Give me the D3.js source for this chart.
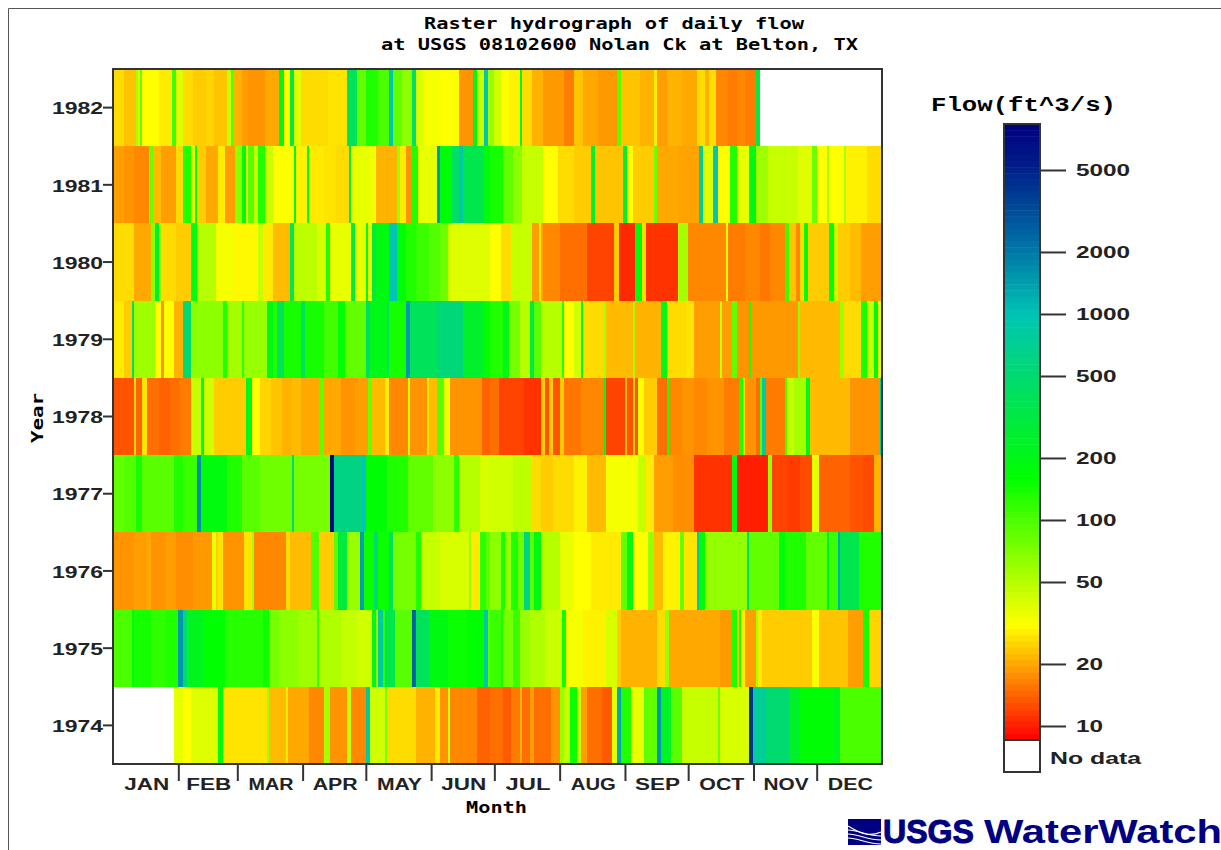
<!DOCTYPE html>
<html>
<head>
<meta charset="utf-8">
<title>Raster hydrograph</title>
<script src="https://d3js.org/d3.v7.min.js"></script>
<style>
html, body { margin: 0; padding: 0; background: #fff; }
svg { display: block; }
</style>
</head>
<body>
<svg class="chart"></svg>
<script>
// each run is [first day of year (0 based), flow in ft^3/s]; a flow holds until the next run, null = no data
var flow1982 = [[0,26],[5,23],[11,55],[12,38],[13,85],[14,31],[22,28],[28,110],[30,38],[33,26],[38,24],[44,25],[48,23],[54,45],[56,100],[57,21],[61,19],[64,18],[72,20],[79,200],[81,31],[84,300],[86,38],[89,26],[102,27],[111,400],[116,85],[120,130],[126,100],[131,900],[133,85],[137,65],[142,450],[144,40],[147,33],[155,31],[164,18],[171,200],[173,44],[176,900],[178,55],[179,60],[181,42],[184,31],[188,29],[193,200],[194,26],[199,21],[204,18.5],[214,16],[219,23],[223,20],[230,18.5],[239,90],[241,23],[250,21],[257,28],[258,19],[263,21],[270,20],[277,26],[281,21],[283,26],[286,17],[292,16],[296,17],[300,16],[305,300],[307,null]];
var flow1981 = [[0,19],[5,18],[10,17],[17,80],[19,22],[23,19],[30,26],[33,130],[37,38],[39,200],[40,24],[44,20],[50,28],[53,19],[58,65],[61,200],[63,38],[64,90],[67,45],[69,130],[72,44],[76,31],[86,200],[87,29],[92,200],[93,28],[100,27],[106,26],[112,300],[113,36],[122,34],[125,21],[135,60],[136,28],[139,18],[142,130],[145,36],[154,1500],[155,170],[161,450],[164,850],[166,350],[176,180],[179,140],[185,85],[190,65],[194,45],[204,31],[211,26],[219,24],[227,250],[229,23],[242,250],[244,31],[247,24],[257,80],[258,20],[268,19.5],[278,700],[280,38],[285,1000],[287,31],[293,130],[296,36],[302,200],[305,58],[311,45],[325,38],[332,80],[334,31],[339,55],[340,31],[347,55],[348,29],[358,26]];
var flow1980 = [[0,26],[10,20],[18,65],[20,250],[22,60],[23,26],[30,24],[37,180],[40,50],[49,33],[57,30],[69,45],[71,28],[76,22],[84,350],[86,48],[97,40],[101,130],[103,36],[113,300],[115,36],[120,180],[121,36],[123,300],[125,190],[131,1000],[135,170],[139,130],[144,110],[150,95],[155,80],[159,45],[160,38],[179,31],[184,26],[189,45],[199,19],[202,28],[203,19],[204,17],[212,15],[225,12],[238,24],[240,10.5],[248,180],[251,26],[253,11],[268,55],[273,17],[291,31],[292,16],[300,17],[307,15.5],[312,17],[319,110],[321,23],[324,17],[326,26],[328,170],[330,24],[340,170],[342,45],[344,24],[350,22],[355,19]];
var flow1979 = [[0,28],[5,24],[9,400],[10,58],[20,31],[23,18],[24,31],[29,21],[33,500],[37,65],[52,130],[54,55],[61,120],[62,60],[73,200],[76,130],[78,400],[81,140],[89,400],[91,140],[100,105],[107,160],[110,85],[120,450],[122,200],[130,400],[131,140],[139,1500],[141,400],[154,550],[166,250],[176,170],[179,130],[185,200],[188,75],[193,50],[198,300],[200,90],[203,50],[213,130],[214,31],[219,42],[222,220],[223,26],[233,55],[234,22],[247,55],[248,21],[260,200],[263,26],[272,27],[276,19],[288,45],[289,19],[294,85],[296,18],[302,130],[303,18.5],[325,60],[326,22],[345,58],[347,26],[355,140],[358,45],[361,190],[363,36]];
var flow1978 = [[0,13],[10,26],[11,14],[14,27],[16,15],[22,14],[27,15],[32,16],[37,45],[42,170],[43,42],[48,24],[63,200],[66,31],[70,25],[75,23],[80,21],[85,22],[89,20],[98,85],[100,20],[108,18],[115,19],[121,80],[123,22],[129,28],[131,17],[140,45],[141,18],[149,28],[150,22],[154,90],[157,35],[160,18],[175,14],[179,15],[183,12],[195,11],[203,24],[205,13],[207,24],[209,13],[212,24],[214,15.5],[222,17],[233,170],[234,12],[243,22],[244,13],[247,24],[248,13],[249,31],[252,24],[258,15],[263,130],[264,17],[270,18],[276,17],[282,18],[290,16],[297,130],[299,26],[300,18],[305,15],[307,90],[308,800],[310,16],[319,100],[320,45],[323,55],[329,200],[331,22],[350,18],[364,800]];
var flow1977 = [[0,85],[5,95],[11,140],[14,90],[29,130],[33,110],[40,1600],[42,180],[54,130],[61,90],[70,78],[85,500],[86,75],[103,7000],[105,600],[118,1000],[120,170],[130,130],[140,85],[152,65],[162,120],[164,50],[174,40],[179,42],[190,47],[199,26],[203,24],[209,26],[219,29],[225,22],[234,33],[249,45],[253,28],[257,19],[266,17.5],[276,11],[294,170],[296,10],[311,60],[313,12],[320,11.5],[326,12.5],[332,36],[335,14],[350,13],[356,12.5],[361,21]];
var flow1976 = [[0,18],[10,19],[16,20],[18,18],[25,19],[30,17.5],[38,18.5],[47,36],[49,24],[50,27],[52,18],[62,27],[66,55],[67,17],[82,26],[84,22],[94,95],[98,24],[105,90],[107,300],[111,60],[117,1400],[119,150],[124,500],[126,150],[131,400],[133,75],[144,130],[146,45],[155,40],[169,60],[170,28],[174,120],[177,90],[179,65],[184,140],[186,60],[189,130],[192,80],[195,600],[198,90],[200,190],[203,50],[212,36],[219,31],[227,28],[241,85],[244,190],[247,31],[254,60],[257,22],[261,29],[269,85],[271,27],[277,1000],[278,170],[281,62],[301,450],[302,85],[316,170],[319,130],[329,85],[339,250],[340,110],[344,1300],[345,350],[354,130]];
var flow1975 = [[0,100],[9,180],[10,140],[18,120],[25,130],[31,1500],[33,500],[35,220],[43,160],[53,125],[71,150],[74,75],[79,65],[88,58],[97,110],[98,52],[108,46],[116,42],[123,220],[125,60],[126,800],[128,120],[129,350],[134,90],[142,2500],[144,400],[150,190],[159,150],[168,165],[176,900],[178,90],[179,110],[184,140],[185,75],[190,110],[193,60],[198,52],[205,44],[213,150],[215,33],[223,29],[234,40],[239,24],[241,21],[258,26],[262,60],[264,20],[288,18.5],[294,130],[296,24],[297,140],[298,28],[300,19],[305,55],[306,28],[308,24],[332,31],[335,23],[349,19],[356,140],[359,25]];
var flow1974 = [[0,null],[29,36],[33,31],[37,38],[50,180],[52,27],[73,55],[74,22],[82,28],[83,20],[93,17],[100,55],[103,18],[111,45],[113,17],[120,800],[122,42],[129,75],[130,26],[144,21],[153,28],[155,18],[159,45],[160,17],[173,14],[179,15],[185,13.5],[189,16],[193,21],[194,15],[198,19],[200,15],[208,18],[212,60],[214,45],[217,150],[220,45],[222,19],[225,15],[232,13.5],[237,38],[239,1300],[241,130],[246,36],[252,90],[253,85],[258,1500],[260,230],[265,90],[270,45],[287,80],[288,40],[302,4000],[304,750],[310,500],[321,250],[326,170],[342,220],[345,100]];

var years = [1982, 1981, 1980, 1979, 1978, 1977, 1976, 1975, 1974];
var yearRuns = [flow1982, flow1981, flow1980, flow1979, flow1978, flow1977, flow1976, flow1975, flow1974];
var monthNames = ['JAN', 'FEB', 'MAR', 'APR', 'MAY', 'JUN', 'JUL', 'AUG', 'SEP', 'OCT', 'NOV', 'DEC'];
var monthStarts = [0, 31, 59, 90, 120, 151, 181, 212, 243, 273, 304, 334, 365];
var legendTicks = [5000, 2000, 1000, 500, 200, 100, 50, 20, 10];
var flowStops = [8.55, 31, 160, 1000, 2000, 5000, 8360];
var colorStops = ['#ff0000', '#ffff00', '#00ff00', '#00c4b4', '#0078a8', '#00208a', '#000080'];

function show() {
    'use strict';

    var width = 1221, height = 850;
    var plot = { left: 113, right: 882, top: 69, bottom: 764 };
    var darkLine = '#333';
    var sansFont = '"Liberation Sans", Arial, sans-serif';
    var monoFont = '"DejaVu Sans Mono", monospace';

    var svg = d3.select('.chart')
        .attr('width', width)
        .attr('height', height);

    var x = d3.scaleLinear().domain([0, 365]).range([plot.left, plot.right]);
    var y = d3.scaleBand().domain(years).range([plot.top, plot.bottom]);
    var color = d3.scaleLog().domain(flowStops).range(colorStops)
        .interpolate(d3.interpolateRgb).clamp(true);

    // blur the raster a touch, the original picture was scaled up
    var filter = svg.append('defs').append('filter')
        .attr('id', 'soft')
        .attr('color-interpolation-filters', 'sRGB')
        .attr('x', 0).attr('y', 0).attr('width', 1).attr('height', 1);
    filter.append('feGaussianBlur').attr('stdDeviation', '0.6 0');

    // page border
    svg.append('path')
        .attr('d', 'M8.5,850V8.5H1221')
        .attr('fill', 'none')
        .attr('stroke', '#555');

    // expand the runs to one cell per day
    var cells = [];
    years.forEach(function (year, i) {
        var runs = yearRuns[i];
        var r = 0;
        d3.range(365).forEach(function (day) {
            while (r + 1 < runs.length && runs[r + 1][0] <= day) r++;
            if (runs[r][1] !== null) cells.push({ year: year, day: day, flow: runs[r][1] });
        });
    });

    svg.append('g')
        .attr('filter', 'url(#soft)')
        .selectAll('rect').data(cells).enter()
        .append('rect')
        .attr('x', function (d) { return x(d.day); })
        .attr('y', function (d) { return y(d.year); })
        .attr('width', function (d) { return x(d.day + 1) - x(d.day) + 0.6; })
        .attr('height', y.bandwidth() + 0.5)
        .attr('fill', function (d) { return color(d.flow); })
        .attr('shape-rendering', 'crispEdges');

    svg.append('rect')
        .attr('x', plot.left)
        .attr('y', plot.top)
        .attr('width', plot.right - plot.left)
        .attr('height', plot.bottom - plot.top)
        .attr('fill', 'none')
        .attr('stroke', darkLine)
        .attr('stroke-width', 2);

    // year axis
    var yAxis = svg.append('g')
        .attr('transform', 'translate(' + plot.left + ',0)')
        .call(d3.axisLeft(y).tickSize(10).tickPadding(0));
    yAxis.select('.domain').remove();
    yAxis.selectAll('line').attr('stroke', darkLine).attr('stroke-width', 2);
    yAxis.selectAll('text')
        .attr('x', -10)
        .attr('dy', '0.42em')
        .attr('textLength', 51)
        .attr('lengthAdjust', 'spacingAndGlyphs')
        .attr('font-family', sansFont)
        .attr('font-weight', 'bold')
        .attr('font-size', 16)
        .attr('fill', '#222');

    // month axis, ticks on the month boundaries and names in the middle
    var xAxis = svg.append('g')
        .attr('transform', 'translate(0,' + plot.bottom + ')')
        .call(d3.axisBottom(x).tickValues(monthStarts.slice(1, 12)).tickSize(17).tickFormat(''));
    xAxis.select('.domain').remove();
    xAxis.selectAll('line').attr('stroke', darkLine).attr('stroke-width', 2);

    svg.append('g').selectAll('text').data(monthNames).enter()
        .append('text')
        .attr('x', function (d, i) { return x((monthStarts[i] + monthStarts[i + 1]) / 2) + 1; })
        .attr('y', 790)
        .attr('text-anchor', 'middle')
        .attr('textLength', 45)
        .attr('lengthAdjust', 'spacingAndGlyphs')
        .attr('font-family', sansFont)
        .attr('font-weight', 'bold')
        .attr('font-size', 16)
        .attr('fill', '#222')
        .text(function (d) { return d; });

    // titles
    svg.append('text')
        .attr('x', 424).attr('y', 29)
        .attr('textLength', 380)
        .attr('lengthAdjust', 'spacingAndGlyphs')
        .attr('font-family', monoFont).attr('font-weight', 'bold').attr('font-size', 15.5)
        .text('Raster hydrograph of daily flow');
    svg.append('text')
        .attr('x', 381).attr('y', 50)
        .attr('textLength', 477)
        .attr('lengthAdjust', 'spacingAndGlyphs')
        .attr('font-family', monoFont).attr('font-weight', 'bold').attr('font-size', 15.5)
        .text('at USGS 08102600 Nolan Ck at Belton, TX');
    svg.append('text')
        .attr('x', 466).attr('y', 813)
        .attr('textLength', 61)
        .attr('lengthAdjust', 'spacingAndGlyphs')
        .attr('font-family', monoFont).attr('font-weight', 'bold').attr('font-size', 15.5)
        .text('Month');
    svg.append('text')
        .attr('transform', 'translate(43,443) rotate(-90)')
        .attr('textLength', 50)
        .attr('lengthAdjust', 'spacingAndGlyphs')
        .attr('font-family', monoFont).attr('font-weight', 'bold').attr('font-size', 15.5)
        .text('Year');

    // legend
    var legend = { left: 1004, right: 1040, top: 124, bottom: 740, noData: 772, bands: 100 };
    var legendY = d3.scaleLog()
        .domain([flowStops[0], flowStops[flowStops.length - 1]])
        .range([legend.bottom, legend.top]);
    var bandHeight = (legend.bottom - legend.top) / legend.bands;

    svg.append('text')
        .attr('x', 931).attr('y', 111)
        .attr('textLength', 185)
        .attr('lengthAdjust', 'spacingAndGlyphs')
        .attr('font-family', '"Liberation Mono", monospace').attr('font-weight', 'bold').attr('font-size', 20)
        .text('Flow(ft^3/s)');

    svg.append('g').selectAll('rect').data(d3.range(legend.bands)).enter()
        .append('rect')
        .attr('x', legend.left)
        .attr('y', function (d) { return legend.top + d * bandHeight; })
        .attr('width', legend.right - legend.left)
        .attr('height', bandHeight + 0.5)
        .attr('fill', function (d) { return color(legendY.invert(legend.top + (d + 0.5) * bandHeight)); });

    svg.append('rect')
        .attr('x', legend.left)
        .attr('y', legend.top)
        .attr('width', legend.right - legend.left)
        .attr('height', legend.noData - legend.top)
        .attr('fill', 'none')
        .attr('stroke', darkLine)
        .attr('stroke-width', 2);
    svg.append('line')
        .attr('x1', legend.left).attr('x2', legend.right)
        .attr('y1', legend.bottom).attr('y2', legend.bottom)
        .attr('stroke', darkLine)
        .attr('stroke-width', 2);

    var legendAxis = svg.append('g')
        .attr('transform', 'translate(' + legend.right + ',0)')
        .call(d3.axisRight(legendY).tickValues(legendTicks).tickSize(26).tickFormat(d3.format('d')));
    legendAxis.select('.domain').remove();
    legendAxis.selectAll('line').attr('stroke', darkLine).attr('stroke-width', 2);
    legendAxis.selectAll('text')
        .attr('x', 36)
        .attr('textLength', function (d) { return String(d).length * 13.5; })
        .attr('lengthAdjust', 'spacingAndGlyphs')
        .attr('font-family', sansFont)
        .attr('font-weight', 'bold')
        .attr('font-size', 16)
        .attr('fill', '#222');

    svg.append('text')
        .attr('x', 1050).attr('y', 764)
        .attr('textLength', 91)
        .attr('lengthAdjust', 'spacingAndGlyphs')
        .attr('font-family', sansFont).attr('font-weight', 'bold').attr('font-size', 16)
        .attr('fill', '#222')
        .text('No data');

    // logo
    var navy = '#000080';
    var logo = svg.append('g');
    logo.append('rect').attr('x', 848).attr('y', 819).attr('width', 33).attr('height', 26).attr('fill', navy);
    [[826, 832], [830, 830], [834, 834], [838, 838]].forEach(function (w) {
        logo.append('path')
            .attr('d', 'M848,' + w[0] + 'C858,' + w[1] + ' 868,' + (w[1] + 6) + ' 881,' + (w[0] + 6))
            .attr('fill', 'none')
            .attr('stroke', '#fff')
            .attr('stroke-width', 1.2);
    });
    logo.append('text')
        .attr('x', 883).attr('y', 843)
        .attr('textLength', 91)
        .attr('lengthAdjust', 'spacingAndGlyphs')
        .attr('font-family', sansFont).attr('font-weight', 'bold').attr('font-size', 33)
        .attr('stroke', navy).attr('stroke-width', 1)
        .attr('fill', navy)
        .text('USGS');
    logo.append('text')
        .attr('x', 984).attr('y', 843)
        .attr('textLength', 238)
        .attr('lengthAdjust', 'spacingAndGlyphs')
        .attr('font-family', sansFont).attr('font-weight', 'bold').attr('font-size', 33)
        .attr('fill', navy)
        .text('WaterWatch');
}

show();
</script>
</body>
</html>
